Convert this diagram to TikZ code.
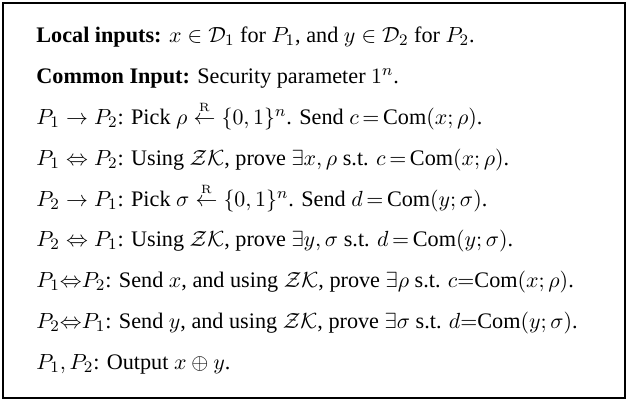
\documentclass[tikz,border=0pt]{standalone}
\usepackage{amsmath,amssymb}
\usepackage[no-math]{fontspec}
\setmainfont{Liberation Serif}

\tikzset{proto/.style={anchor=base west, inner sep=0pt, font=\fontsize{11.1}{13}\selectfont}}
\newcommand{\rnd}{\stackrel{\scriptscriptstyle\mathrm{R}}{\leftarrow}}

\begin{document}
\begin{tikzpicture}[x=0.5pt,y=-0.5pt]
		\useasboundingbox (0,0) rectangle (628,403);
		%frame
		\draw[line width=0.6pt] (3,3) rectangle (625,398);
		%inputs
		\node[proto] (local) at (36,42) {\textbf{Local inputs:} $x \in \mathcal{D}_1$ for $P_1$, and $y \in \mathcal{D}_2$ for $P_2$.};
		\node[proto] (common) at (36,83) {\textbf{Common Input:} Security parameter $1^n$.};
		%commit phase
		\node[proto] (commitone) at (36,124) {$P_1 \rightarrow P_2$: Pick $\rho \rnd \{0,1\}^n$. Send $c\,{=}\,\text{Com}(x;\rho)$.};
		\node[proto] (zkone) at (36,165) {$P_1 \Leftrightarrow P_2$: Using $\mathcal{ZK}$, prove $\exists x,\rho$ s.t. $c\,{=}\,\text{Com}(x;\rho)$.};
		\node[proto] (committwo) at (36,206) {$P_2 \rightarrow P_1$: Pick $\sigma \rnd \{0,1\}^n$. Send $d\,{=}\,\text{Com}(y;\sigma)$.};
		\node[proto] (zktwo) at (36,246.5) {$P_2 \Leftrightarrow P_1$: Using $\mathcal{ZK}$, prove $\exists y,\sigma$ s.t. $d\,{=}\,\text{Com}(y;\sigma)$.};
		%open phase
		\node[proto] (openone) at (36,287) {$P_1{\Leftrightarrow}P_2$: Send $x$, and using $\mathcal{ZK}$, prove $\exists\rho$ s.t. $c{=}\text{Com}(x;\rho)$.};
		\node[proto] (opentwo) at (36,328) {$P_2{\Leftrightarrow}P_1$: Send $y$, and using $\mathcal{ZK}$, prove $\exists\sigma$ s.t. $d{=}\text{Com}(y;\sigma)$.};
		%output
		\node[proto] (output) at (36,369) {$P_1, P_2$: Output $x \oplus y$.};
	\end{tikzpicture}
\end{document}
